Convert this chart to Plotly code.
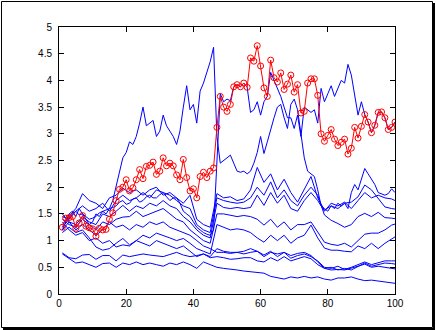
import plotly.graph_objects as go

# x positions
x_unit = list(range(1, 101))
x_coarse = list(range(1, 48, 2)) + list(range(49, 100, 2)) + [100]

# red series (marked with open circles)
red = [1.25, 1.42, 1.43, 1.45, 1.23, 1.33, 1.47, 1.27, 1.24, 1.22,
       1.08, 1.23, 1.20, 1.21, 1.40, 1.52, 1.75, 1.96, 2.00, 2.14,
       1.93, 1.99, 2.14, 2.33, 2.16, 2.39, 2.41, 2.47, 2.24, 2.30,
       2.55, 2.40, 2.45, 2.40, 2.23, 2.14, 2.52, 2.18, 1.93, 1.97,
       1.80, 2.20, 2.28, 2.18, 2.30, 2.36, 3.12, 3.70, 3.50, 3.42,
       3.55, 3.88, 3.92, 3.88, 3.95, 3.87, 4.42, 4.36, 4.65, 4.27,
       3.86, 3.70, 4.38, 4.05, 3.97, 4.14, 3.83, 3.93, 4.10, 3.78,
       3.92, 3.39, 3.42, 3.95, 4.03, 4.03, 3.72, 3.00, 2.86, 2.97,
       3.08, 2.90, 2.78, 2.84, 2.90, 2.62, 2.73, 3.12, 2.92, 3.14,
       3.36, 3.22, 3.02, 3.16, 3.40, 3.41, 3.30, 3.08, 3.12, 3.22]

# blue series sampled every step
blue_high_early = [1.20, 1.35, 1.50, 1.55, 1.45, 1.60, 1.50, 1.40, 1.30, 1.35,
                   1.50, 1.45, 1.55, 1.50, 1.60, 1.75, 2.00, 2.30, 2.55, 2.65,
                   2.85, 2.80, 2.95, 3.20, 3.50, 3.15, 3.20, 3.25, 2.95, 3.05,
                   3.35, 3.15, 3.05, 2.95, 2.80, 3.05, 3.50, 3.90, 3.45, 3.55,
                   3.20, 3.80, 3.95, 4.15, 4.35, 4.62, 2.95, 2.45, 2.50, 2.55,
                   2.60, 2.45, 2.30, 2.28, 2.30, 2.25, 2.30, 2.45, 2.65, 2.95,
                   2.63, 2.85, 3.10, 3.30, 3.50, 3.55, 3.30, 3.10, 3.55, 3.65,
                   3.45, 3.00, 2.55, 2.30, 2.25, 2.20, 1.95, 1.65, 1.60, 1.55,
                   1.65, 1.60, 1.70, 1.65, 1.70, 1.60, 1.90, 2.05, 1.95, 2.15,
                   2.35, 2.25, 2.15, 2.05, 1.90, 1.88, 1.85, 1.88, 1.97, 1.90]

blue_high_late = [1.45, 1.42, 1.40, 1.50, 1.55, 1.48, 1.50, 1.45, 1.40, 1.42,
                  1.45, 1.52, 1.55, 1.58, 1.60, 1.62, 1.65, 1.72, 1.75, 1.68,
                  1.70, 1.78, 1.80, 1.72, 1.75, 1.82, 1.85, 1.80, 1.80, 1.86,
                  1.90, 1.82, 1.75, 1.80, 1.80, 1.70, 1.55, 1.50, 1.45, 1.35,
                  1.25, 1.20, 1.15, 1.12, 1.10, 1.20, 2.40, 3.75, 3.60, 3.65,
                  3.62, 3.88, 3.92, 3.88, 3.95, 3.87, 3.40, 3.45, 3.60, 3.35,
                  3.60, 3.70, 4.15, 4.00, 3.85, 3.70, 3.50, 3.30, 3.30, 3.10,
                  3.35, 2.95, 3.50, 3.45, 3.40, 3.45, 3.20, 3.85, 3.60, 3.75,
                  3.90, 3.70, 3.85, 4.00, 3.95, 4.30, 4.10, 3.70, 3.35, 3.60,
                  3.36, 3.22, 3.02, 3.16, 3.40, 3.41, 3.30, 3.08, 3.12, 3.22]

# blue series sampled every second step (x_coarse)
blue_a = [1.30, 1.45, 1.60, 1.88, 1.75, 1.70, 1.60, 1.80, 1.85, 1.98, 1.90, 1.95,
          1.85, 1.95, 2.00, 1.85, 1.90, 1.80, 1.70, 1.85, 1.40, 1.30, 1.25, 1.88,
          1.80, 1.82, 1.75, 1.78, 1.95, 2.37, 2.09, 2.25, 1.95, 2.15, 1.90, 1.72,
          1.95, 2.20, 1.80, 1.57, 1.65, 1.60, 1.70, 1.72, 1.82, 2.04, 1.95, 1.80,
          1.63, 1.60, 1.59]
blue_b = [1.25, 1.40, 1.55, 1.65, 1.55, 1.60, 1.70, 1.55, 1.75, 1.85, 1.75, 1.80,
          1.90, 1.80, 1.95, 1.90, 1.85, 1.75, 1.65, 1.60, 1.30, 1.20, 1.15, 1.80,
          1.75, 1.72, 1.70, 1.72, 1.80, 2.00, 1.85, 2.10, 1.80, 1.95, 1.75, 1.65,
          1.85, 2.00, 1.85, 1.48, 1.38, 1.32, 1.25, 1.30, 1.45, 1.51, 1.45, 1.53,
          1.43, 1.42, 1.41]
blue_c = [1.20, 1.35, 1.30, 1.45, 1.35, 1.30, 1.50, 1.45, 1.55, 1.66, 1.55, 1.65,
          1.60, 1.70, 1.65, 1.75, 1.65, 1.60, 1.45, 1.35, 1.20, 1.10, 1.05, 1.70,
          1.62, 1.60, 1.62, 1.60, 1.62, 1.85, 1.66, 1.90, 1.70, 1.85, 1.60, 1.55,
          1.75, 1.90, 1.75, 1.55, 1.70, 1.65, 1.72, 1.60, 1.75, 1.90, 1.80, 1.85,
          1.80, 1.78, 1.75]
blue_d = [1.40, 1.30, 1.25, 1.40, 1.30, 1.20, 1.35, 1.30, 1.40, 1.44, 1.45, 1.55,
          1.45, 1.50, 1.54, 1.60, 1.50, 1.40, 1.35, 1.20, 1.10, 1.00, 0.95, 1.50,
          1.50, 1.47, 1.45, 1.47, 1.45, 1.40, 1.29, 1.40, 1.25, 1.35, 1.20, 1.30,
          1.30, 1.35, 1.16, 0.97, 0.93, 0.91, 0.95, 0.88, 1.00, 1.12, 1.14, 1.14,
          1.20, 1.29, 1.31]
blue_e = [1.15, 1.25, 1.15, 1.20, 1.05, 0.88, 0.82, 0.85, 0.95, 1.04, 0.92, 1.00,
          1.10, 1.05, 1.14, 1.10, 1.05, 1.00, 1.04, 0.95, 0.85, 0.80, 0.75, 1.30,
          1.25, 1.20, 1.22, 1.20, 1.15, 1.05, 0.97, 1.10, 1.00, 1.10, 0.95, 1.05,
          1.10, 1.29, 1.05, 0.86, 0.82, 0.82, 0.80, 0.79, 0.90, 0.85, 0.95, 0.85,
          0.95, 1.03, 1.07]
blue_f = [1.35, 1.20, 1.10, 1.15, 1.00, 1.05, 0.95, 1.00, 0.88, 0.92, 0.90, 1.00,
          0.95, 0.90, 1.00, 0.95, 0.90, 0.85, 0.90, 0.80, 0.70, 0.75, 0.70, 0.85,
          0.80, 0.78, 0.78, 0.80, 0.85, 0.80, 0.73, 0.80, 0.70, 0.78, 0.67, 0.72,
          0.75, 0.70, 0.62, 0.50, 0.48, 0.52, 0.46, 0.50, 0.55, 0.60, 0.55, 0.58,
          0.62, 0.62, 0.62]
blue_g = [0.77, 0.68, 0.66, 0.73, 0.74, 0.65, 0.72, 0.72, 0.62, 0.73, 0.70, 0.72,
          0.75, 0.73, 0.72, 0.70, 0.74, 0.78, 0.73, 0.70, 0.72, 0.75, 0.68, 0.70,
          0.68, 0.65, 0.66, 0.68, 0.68, 0.62, 0.60, 0.68, 0.62, 0.70, 0.62, 0.66,
          0.70, 0.66, 0.55, 0.48, 0.50, 0.45, 0.48, 0.45, 0.52, 0.58, 0.52, 0.55,
          0.58, 0.57, 0.56]
blue_h = [0.75, 0.66, 0.58, 0.60, 0.55, 0.50, 0.57, 0.58, 0.50, 0.58, 0.55, 0.60,
          0.55, 0.58, 0.55, 0.52, 0.58, 0.55, 0.60, 0.55, 0.48, 0.60, 0.55, 0.50,
          0.48, 0.47, 0.45, 0.43, 0.42, 0.40, 0.39, 0.33, 0.30, 0.28, 0.32, 0.30,
          0.33, 0.30, 0.32, 0.28, 0.26, 0.30, 0.30, 0.32, 0.28, 0.25, 0.26, 0.24,
          0.22, 0.21, 0.20]
blue_i = [1.50, 1.35, 1.20, 1.30, 1.20, 1.10, 1.20, 1.35, 1.25, 1.29, 1.20, 1.30,
          1.25, 1.35, 1.30, 1.35, 1.25, 1.20, 1.15, 1.10, 1.00, 0.90, 0.85, 0.78,
          0.78, 0.76, 0.78, 0.75, 0.78, 0.80, 0.70, 0.78, 0.75, 0.78, 0.72, 0.76,
          0.78, 0.72, 0.60, 0.48, 0.45, 0.46, 0.45, 0.48, 0.52, 0.56, 0.50, 0.52,
          0.50, 0.48, 0.47]

x_ticks = [0, 20, 40, 60, 80, 100]

BLUE = "#0000ff"
RED = "#ff0000"

fig = go.Figure()
for ys in [blue_high_early, blue_high_late]:
    fig.add_trace(go.Scatter(x=x_unit, y=ys, mode="lines",
                             line=dict(color=BLUE, width=1), hoverinfo="skip"))
for ys in [blue_a, blue_b, blue_c, blue_d, blue_e, blue_f, blue_g, blue_h, blue_i]:
    fig.add_trace(go.Scatter(x=x_coarse, y=ys, mode="lines",
                             line=dict(color=BLUE, width=1), hoverinfo="skip"))
fig.add_trace(go.Scatter(x=x_unit, y=red, mode="lines+markers",
                         line=dict(color=RED, width=1),
                         marker=dict(symbol="circle-open", size=6,
                                     color=RED, line=dict(width=1, color=RED))))

L, R, T, B = 59, 41, 27, 36
W, H = 436, 330
pw, ph = W - L - R, H - T - B

def px(xp):
    return (xp - L) / pw

def py(yp):
    return (H - B - yp) / ph

shapes = [
    dict(type="rect", xref="paper", yref="paper",
         x0=px(1.5), x1=px(432.5), y0=py(327.5), y1=py(1.5),
         line=dict(color="black", width=1)),
    dict(type="line", xref="paper", yref="paper",
         x0=px(434), x1=px(434), y0=py(329.5), y1=py(3),
         line=dict(color="black", width=2)),
    dict(type="line", xref="paper", yref="paper",
         x0=px(3), x1=px(435), y0=py(329), y1=py(329),
         line=dict(color="black", width=2)),
]

axis_font = dict(family="Liberation Sans, Arial, sans-serif", size=10, color="black")
fig.update_layout(
    width=W, height=H,
    margin=dict(l=L, r=R, t=T, b=B),
    paper_bgcolor="white", plot_bgcolor="white",
    showlegend=False,
    shapes=shapes,
    xaxis=dict(range=[0, 100], tickvals=x_ticks, ticks="inside", ticklen=5,
               tickcolor="black", showline=True, linecolor="black", linewidth=1,
               mirror="ticks", showgrid=False, zeroline=False, tickfont=axis_font),
    yaxis=dict(range=[0, 5], dtick=0.5, tick0=0, ticks="inside", ticklen=5,
               tickcolor="black", showline=True, linecolor="black", linewidth=1,
               mirror="ticks", showgrid=False, zeroline=False, tickfont=axis_font,
               ticklabelstandoff=4),
)

fig.write_html("out.html")
